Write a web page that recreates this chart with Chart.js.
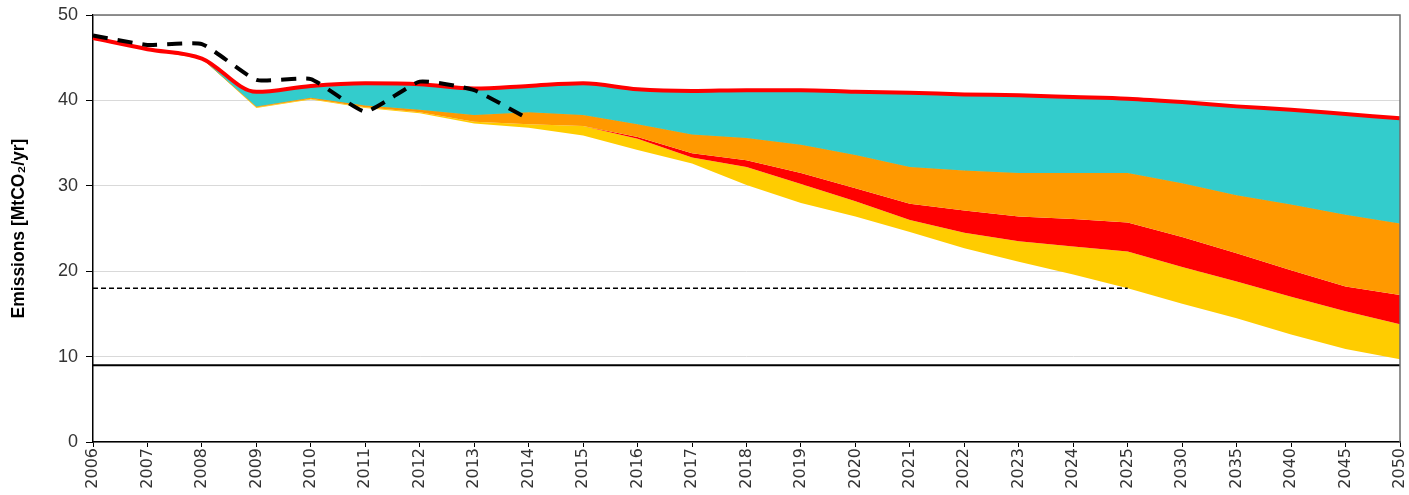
<!DOCTYPE html>
<html>
<head>
<meta charset="utf-8">
<script src="https://cdn.jsdelivr.net/npm/chart.js@4"></script>
<style>
  html, body { margin: 0; padding: 0; background: #fff; }
  #wrap { width: 1409px; height: 495px; }
</style>
</head>
<body>
<div id="wrap"><canvas id="emChart" width="1409" height="495"></canvas></div>
<script>
const years = ['2006','2007','2008','2009','2010','2011','2012','2013','2014','2015','2016','2017','2018','2019',
  '2020','2021','2022','2023','2024','2025','2030','2035','2040','2045','2050'];

// upper edge of the whole stack (red line)
const total = [47.3, 46.0, 44.9, 41.0, 41.7, 42.0, 41.9, 41.4, 41.7, 42.0, 41.3, 41.1, 41.2, 41.2,
  41.0, 40.9, 40.7, 40.6, 40.4, 40.2, 39.8, 39.3, 38.9, 38.4, 37.9];
// lower edges of each band
const cyanLow = [47.3, 46.0, 44.9, 39.3, 40.3, 39.4, 38.9, 38.3, 38.6, 38.3, 37.2, 36.0, 35.6, 34.8,
  33.6, 32.2, 31.8, 31.5, 31.5, 31.5, 30.3, 28.9, 27.8, 26.6, 25.6];
const orangeLow = [47.3, 46.0, 44.9, 39.2, 40.2, 39.2, 38.6, 37.5, 37.2, 37.0, 35.7, 33.8, 33.0, 31.5,
  29.7, 27.9, 27.1, 26.4, 26.1, 25.7, 24.0, 22.1, 20.1, 18.2, 17.2];
const redLow = [47.3, 46.0, 44.9, 39.2, 40.2, 39.2, 38.6, 37.5, 37.2, 37.0, 35.5, 33.3, 32.2, 30.2,
  28.2, 26.0, 24.5, 23.5, 22.9, 22.3, 20.5, 18.8, 17.0, 15.3, 13.8];
const yellowLow = [47.3, 46.0, 44.9, 39.1, 40.1, 39.1, 38.5, 37.3, 36.8, 35.9, 34.2, 32.6, 30.1, 28.0,
  26.4, 24.6, 22.7, 21.1, 19.6, 18.0, 16.2, 14.5, 12.6, 10.9, 9.7];

// historic emissions (black dashed)
const historic = [47.6, 46.5, 46.6, 42.4, 42.5, 38.7, 42.2, 41.2, 37.8];
// reference levels
const target2025 = 18;
const target2050 = 9;

const targetLine = years.map((y, i) => i <= years.indexOf('2025') ? target2025 : null);
const floorLine = years.map(() => target2050);

const boxPlugin = {
  id: 'box',
  afterDatasetsDraw(chart) {
    const a = chart.chartArea, c = chart.ctx;
    c.save();
    c.strokeStyle = '#6e6e6e';
    c.lineWidth = 1.5;
    c.beginPath();
    c.moveTo(a.left, a.top);
    c.lineTo(a.right, a.top);
    c.lineTo(a.right, a.bottom);
    c.stroke();
    c.restore();
  }
};

const flat = { pointRadius: 0, borderWidth: 0, tension: 0 };

new Chart(document.getElementById('emChart'), {
  type: 'line',
  data: {
    labels: years,
    datasets: [
      { ...flat, data: yellowLow, fill: false, borderColor: 'rgba(0,0,0,0)', order: 9 },
      { ...flat, data: redLow, fill: '-1', backgroundColor: '#FFCC00', borderColor: 'rgba(0,0,0,0)', order: 8 },
      { ...flat, data: orangeLow, fill: '-1', backgroundColor: '#FF0000', borderColor: 'rgba(0,0,0,0)', order: 7 },
      { ...flat, data: cyanLow, fill: '-1', backgroundColor: '#FF9900', borderColor: '#FF9900', borderWidth: 1, order: 6 },
      { ...flat, data: total, fill: '-1', backgroundColor: '#33CCCC', borderColor: 'rgba(0,0,0,0)',
        cubicInterpolationMode: 'monotone', order: 5 },
      { data: total, fill: false, borderColor: '#FF0000', borderWidth: 4, pointRadius: 0,
        cubicInterpolationMode: 'monotone', order: 3 },
      { data: historic, fill: false, borderColor: '#000', borderWidth: 4, borderDash: [15, 10],
        pointRadius: 0, tension: 0.15, order: 2 },
      { data: targetLine, fill: false, borderColor: '#000', borderWidth: 1.5, borderDash: [5, 3],
        pointRadius: 0, order: 4 },
      { data: floorLine, fill: false, borderColor: '#000', borderWidth: 2, pointRadius: 0, order: 4 }
    ]
  },
  options: {
    responsive: false,
    animation: false,
    layout: { padding: { top: 15, right: 9, left: 0, bottom: 0 } },
    plugins: { legend: { display: false }, tooltip: { enabled: false } },
    scales: {
      x: {
        offset: false,
        grid: { drawOnChartArea: false, drawTicks: true, tickLength: 5, color: '#000' },
        border: { color: '#000', width: 1.5 },
        ticks: { maxRotation: 90, minRotation: 90, autoSkip: false, color: '#333',
          font: { family: 'DejaVu Sans', size: 16 }, padding: 1 },
        afterFit(s) { s.height = 53; s.paddingLeft = 0; s.paddingRight = 0; }
      },
      y: {
        min: 0, max: 50,
        ticks: { stepSize: 10, color: '#333', font: { family: 'Liberation Sans', size: 18 }, padding: 8 },
        grid: { color: '#d9d9d9', lineWidth: 1, tickLength: 7, tickColor: '#000' },
        border: { color: '#000', width: 1.5 },
        title: { display: true, text: 'Emissions [MtCO\u2082/yr]', color: '#000',
          font: { family: 'Liberation Sans', size: 17.5, weight: 'bold' }, padding: { top: 9, bottom: 0 } },
        afterFit(s) { s.width = 93; s.paddingTop = 0; s.paddingBottom = 0; }
      }
    }
  },
  plugins: [boxPlugin]
});
</script>
</body>
</html>
